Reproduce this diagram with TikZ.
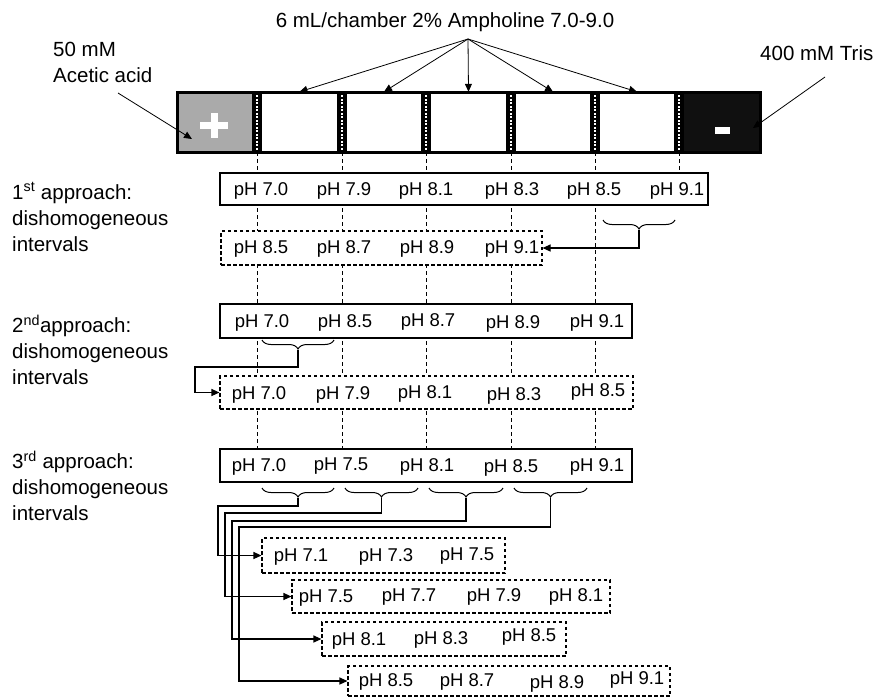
\documentclass[tikz,border=0pt]{standalone}
\usepackage{fontspec}
\setmainfont{Liberation Sans}
\usetikzlibrary{arrows.meta,calc,decorations.pathreplacing}
\definecolor{anodegray}{RGB}{170,170,170}
\definecolor{cathodeblack}{RGB}{16,16,16}

\begin{document}
\begin{tikzpicture}[x=1pt, y=-1pt,
    lbl/.style={font=\fontsize{20.5}{26}\selectfont, align=left, inner sep=0pt},
    ph/.style={font=\fontsize{18.5}{22}\selectfont, inner sep=0pt},
    phbox/.style={draw, line width=1.2pt, fill=white, inner sep=0pt},
    subbox/.style={draw, line width=1.1pt, dash pattern=on 3.5pt off 2.5pt, fill=white, inner sep=0pt},
    chamber/.style={inner sep=0pt, minimum height=60pt},
    membrane/.style={fill=black, inner sep=0pt, minimum width=10pt, minimum height=60pt},
    hatch/.style={white, line width=2.5pt, dash pattern=on 2pt off 1.5pt},
    guide/.style={line width=0.8pt, dash pattern=on 4pt off 3pt},
    arr/.style={line width=0.8pt, -{Triangle[length=8pt,width=7pt]}},
    link/.style={line width=1.1pt, -{Triangle[length=8pt,width=7pt]}},
    brc/.style={decorate, decoration={brace, mirror, amplitude=9pt}, line width=1pt}
  ]
  \useasboundingbox (0,0) rectangle (882,697);

  % guide lines under the boxes
  \draw[guide] (257,152) -- (257,449);
  \draw[guide] (342,152) -- (342,449);
  \draw[guide] (426,152) -- (426,449);
  \draw[guide] (511,152) -- (511,449);
  \draw[guide] (595,152) -- (595,449);
  \draw[guide] (679,152) -- (679,173);

  % chamber bar
  \node[fill=anodegray, inner sep=0pt, minimum width=75pt, minimum height=60pt] (anode) at (214.5,122) {};
  \node[fill=cathodeblack, inner sep=0pt, minimum width=76pt, minimum height=60pt] (cathode) at (722,122) {};
  \fill[white] (200,121.5) rectangle (228,129);
  \fill[white] (210.5,112.5) rectangle (218,138);
  \fill[white] (715,127) rectangle (730,133.5);
  \node[chamber, minimum width=75pt] (c1) at (299.5,122) {};
  \node[chamber, minimum width=74pt] (c2) at (384,122) {};
  \node[chamber, minimum width=75pt] (c3) at (468.5,122) {};
  \node[chamber, minimum width=74pt] (c4) at (553,122) {};
  \node[chamber, minimum width=74pt] (c5) at (637,122) {};
  \node[membrane] (m1) at (257,122) {};
  \node[membrane] (m2) at (342,122) {};
  \node[membrane] (m3) at (426,122) {};
  \node[membrane] (m4) at (511,122) {};
  \node[membrane] (m5) at (595,122) {};
  \node[membrane] (m6) at (679,122) {};
  \draw[hatch] (m1.north) -- (m1.south);
  \draw[hatch] (m2.north) -- (m2.south);
  \draw[hatch] (m3.north) -- (m3.south);
  \draw[hatch] (m4.north) -- (m4.south);
  \draw[hatch] (m5.north) -- (m5.south);
  \draw[hatch] (m6.north) -- (m6.south);
  \draw[line width=3pt] (177,92) rectangle (760,152);

  % labels on top
  \node[lbl] (amph) at (445,22) {6 mL/chamber 2\% Ampholine 7.0-9.0};
  \coordinate (src) at (468,39);
  \draw[arr] (src) -- (c1.north);
  \draw[arr] (src) -- (c2.north);
  \draw[arr] (src) -- (c3.north);
  \draw[arr] (src) -- (c4.north);
  \draw[arr] (src) -- (c5.north);

  \node[lbl, anchor=west] (acid) at (53,62.5) {50 mM\\Acetic acid};
  \coordinate (acidtail) at (118,93);
  \coordinate (acidtip) at (192,139);
  \draw[arr] (acidtail) -- (acidtip);
  \node[lbl, anchor=west] (tris) at (760,53) {400 mM Tris};
  \coordinate (tristail) at (825,77);
  \coordinate (tristip) at (753,128);
  \draw[arr] (tristail) -- (tristip);

  % approach labels
  \node[lbl, anchor=west] (ap1) at (12,217) {1\textsuperscript{st} approach:\\dishomogeneous\\intervals};
  \node[lbl, anchor=west] (ap2) at (12,350) {2\textsuperscript{nd}approach:\\dishomogeneous\\intervals};
  \node[lbl, anchor=west] (ap3) at (12,486) {3\textsuperscript{rd} approach:\\dishomogeneous\\intervals};

  % 1st approach
  \node[phbox, minimum width=488pt, minimum height=32pt] (r1) at (464,189) {};
  \node[ph] (r1a) at (261,191) {pH 7.0};
  \node[ph] (r1b) at (344,191) {pH 7.9};
  \node[ph] (r1c) at (426,191) {pH 8.1};
  \node[ph] (r1d) at (512,191) {pH 8.3};
  \node[ph] (r1e) at (594,191) {pH 8.5};
  \node[ph] (r1f) at (677,191) {pH 9.1};
  \draw[brc] (603,220) -- (675,220);
  \coordinate (t1) at (639,230);
  \node[subbox, minimum width=321pt, minimum height=34pt] (d1) at (381.5,248) {};
  \node[ph] (d1a) at (261,249) {pH 8.5};
  \node[ph] (d1b) at (344,249) {pH 8.7};
  \node[ph] (d1c) at (427,249) {pH 8.9};
  \node[ph] (d1d) at (512,249) {pH 9.1};
  \draw[link] (t1) |- (d1.east);

  % 2nd approach
  \node[phbox, minimum width=412pt, minimum height=34pt] (r2) at (426,321) {};
  \node[ph] (r2a) at (262,323) {pH 7.0};
  \node[ph] (r2b) at (345,323) {pH 8.5};
  \node[ph] (r2c) at (428,322) {pH 8.7};
  \node[ph] (r2d) at (513,324) {pH 8.9};
  \node[ph] (r2e) at (597,323) {pH 9.1};
  \draw[brc] (262,340) -- (334,340);
  \coordinate (t2) at (298,350);
  \node[subbox, minimum width=413pt, minimum height=33pt] (d2) at (426.5,392.5) {};
  \node[ph] (d2a) at (259,395) {pH 7.0};
  \node[ph] (d2b) at (343,395) {pH 7.9};
  \node[ph] (d2c) at (425,394) {pH 8.1};
  \node[ph] (d2d) at (514,396) {pH 8.3};
  \node[ph] (d2e) at (598,392) {pH 8.5};
  \draw[link] (t2) |- (195,367) |- (d2.west);

  % 3rd approach
  \node[phbox, minimum width=412pt, minimum height=33pt] (r3) at (426,465.5) {};
  \node[ph] (r3a) at (259,467) {pH 7.0};
  \node[ph] (r3b) at (341,466) {pH 7.5};
  \node[ph] (r3c) at (427,467) {pH 8.1};
  \node[ph] (r3d) at (511,468) {pH 8.5};
  \node[ph] (r3e) at (597,467) {pH 9.1};
  \draw[brc] (262,488) -- (334,488);
  \draw[brc] (345,488) -- (418,488);
  \draw[brc] (429,488) -- (503,488);
  \draw[brc] (514,488) -- (587,488);
  \coordinate (t3) at (298,498);
  \coordinate (t4) at (381.5,498);
  \coordinate (t5) at (466,498);
  \coordinate (t6) at (550.5,498);

  \node[subbox, minimum width=243pt, minimum height=35pt] (s1) at (383.5,555.5) {};
  \node[ph] (s1a) at (301,557) {pH 7.1};
  \node[ph] (s1b) at (386,557) {pH 7.3};
  \node[ph] (s1c) at (467,556) {pH 7.5};
  \node[subbox, minimum width=318pt, minimum height=33pt] (s2) at (451,596.5) {};
  \node[ph] (s2a) at (326,598) {pH 7.5};
  \node[ph] (s2b) at (409,597) {pH 7.7};
  \node[ph] (s2c) at (494,597) {pH 7.9};
  \node[ph] (s2d) at (576,597) {pH 8.1};
  \node[subbox, minimum width=244pt, minimum height=34pt] (s3) at (444,639) {};
  \node[ph] (s3a) at (359,641) {pH 8.1};
  \node[ph] (s3b) at (441,640) {pH 8.3};
  \node[ph] (s3c) at (529,637) {pH 8.5};
  \node[subbox, minimum width=322pt, minimum height=30pt] (s4) at (509,681) {};
  \node[ph] (s4a) at (386,682) {pH 8.5};
  \node[ph] (s4b) at (467,682) {pH 8.7};
  \node[ph] (s4c) at (557,684) {pH 8.9};
  \node[ph] (s4d) at (637,680) {pH 9.1};

  \draw[link] (t3) |- (218,506) |- (s1.west);
  \draw[link] (t4) |- (225,513) |- (s2.west);
  \draw[link] (t5) |- (232,521) |- (s3.west);
  \draw[link] (t6) |- (239,527) |- (s4.west);
\end{tikzpicture}
\end{document}
